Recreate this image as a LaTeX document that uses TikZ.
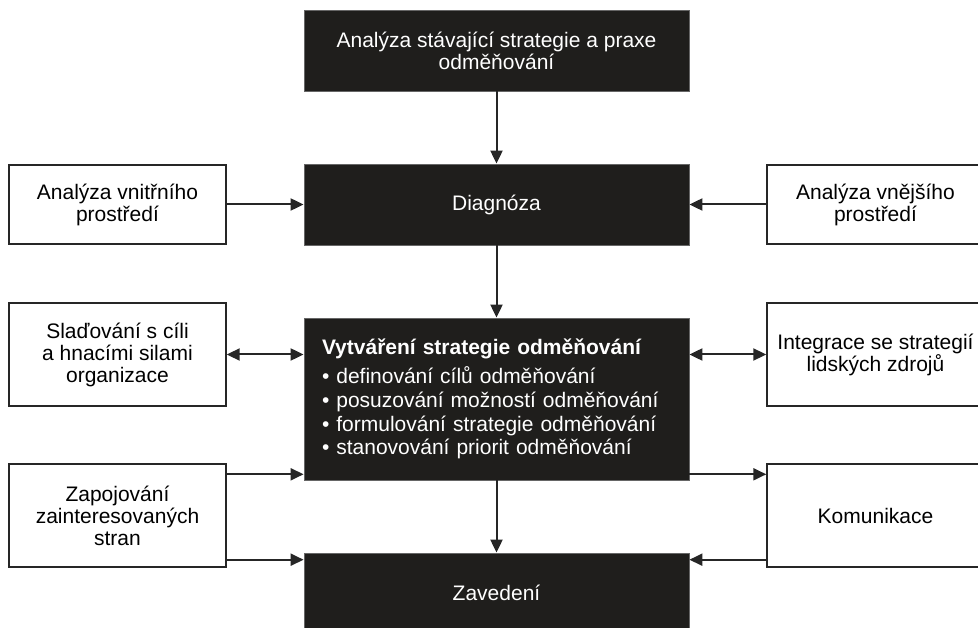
\documentclass[tikz,border=0pt]{standalone}
\usepackage{fontspec}
\setmainfont{Liberation Sans}
\usepackage{tikz}
\usetikzlibrary{arrows.meta}
\definecolor{boxfill}{HTML}{1F1E1C}

\begin{document}
\begin{tikzpicture}[x=1pt, y=-1pt,
    every node/.style={font=\fontsize{21}{22}\selectfont, inner sep=0pt, align=center},
    dark/.style={draw=black!60, line width=0.8pt, fill=boxfill, text=white, minimum width=385pt, minimum height=81pt},
    light/.style={draw=black!85, line width=1.4pt, fill=white, minimum width=217pt},
    arr/.style={line width=2pt, draw=black!85, -{Triangle[length=13pt,width=12pt]}},
    darr/.style={line width=2pt, draw=black!85, {Triangle[length=13pt,width=12pt]}-{Triangle[length=13pt,width=12pt]}}]
        \useasboundingbox (0,0) rectangle (978,628);

        \node[dark] (stav) at (496.5,50.5) {Analýza stávající strategie a praxe\\odměňování};
        \node[dark] (diag) at (496.5,204.5) {Diagnóza};
        \node[dark, minimum height=162pt, text width=349pt, inner xsep=18pt, align=left] (tvorba) at (496.5,399)
            {\textbf{Vytváření strategie odměňování}\\[7pt]
             • definování cílů odměňování\\[1.7pt]
             • posuzování možností odměňování\\[1.7pt]
             • formulování strategie odměňování\\[1.7pt]
             • stanovování priorit odměňování};
        \node[dark, minimum height=80pt] (zaved) at (496.5,593) {Zavedení};

        \node[light, minimum height=79pt] (vnitr) at (117.5,204.5) {Analýza vnitřního\\prostředí};
        \node[light, minimum height=79pt] (vnejs) at (875.5,204.5) {Analýza vnějšího\\prostředí};
        \node[light, minimum height=103pt] (slad) at (117.5,354.5) {Slaďování s cíli\\a hnacími silami\\organizace};
        \node[light, minimum height=103pt] (integr) at (875.5,354.5) {Integrace se strategií\\lidských zdrojů};
        \node[light, minimum height=103pt] (zapoj) at (117.5,515.5) {Zapojování\\zainteresovaných\\stran};
        \node[light, minimum height=103pt] (komun) at (875.5,515.5) {Komunikace};

        \draw[arr] (stav) -- (diag);
        \draw[arr] (diag) -- (tvorba);
        \draw[arr] (tvorba) -- (zaved);
        \draw[arr] (vnitr) -- (diag);
        \draw[arr] (vnejs) -- (diag);
        \draw[darr] (slad) -- (slad -| tvorba.west);
        \draw[darr] (integr) -- (integr -| tvorba.east);

        \coordinate (z1) at ([yshift=-11pt]zapoj.north east);
        \coordinate (z2) at ([yshift=8pt]zapoj.south east);
        \coordinate (k1) at ([yshift=-11pt]komun.north west);
        \coordinate (k2) at ([yshift=8pt]komun.south west);
        \draw[arr] (z1) -- (z1 -| tvorba.west);
        \draw[arr] (z2) -- (z2 -| zaved.west);
        \draw[arr] (k1 -| tvorba.east) -- (k1);
        \draw[arr] (k2) -- (k2 -| zaved.east);
    \end{tikzpicture}
\end{document}
